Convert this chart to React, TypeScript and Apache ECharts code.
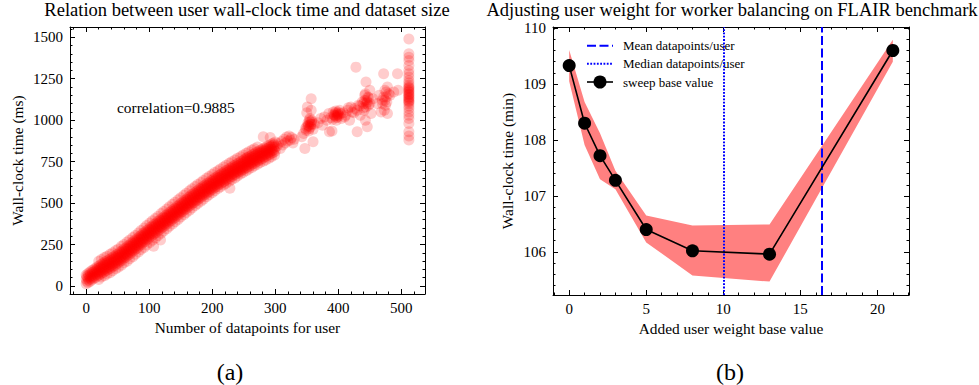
import React, { useEffect, useRef } from "react";
import * as echarts from "echarts";

// ---------- Panel (a): per-user wall-clock time vs dataset size ----------
const userPoints: [number, number][] = [
  [0,14],[0,42],[0,66],[3,20],[3,50],[3,75],[6,27],[6,57],[6,84],[9,36],[9,64],[9,93],[12,45],[12,73],[12,99],
  [15,51],[15,82],[15,108],[18,60],[18,87],[18,117],[21,67],[21,97],[21,123],[24,76],[24,102],[24,132],[27,81],[27,111],[27,138],
  [30,90],[30,117],[30,147],[33,95],[33,125],[33,151],[36,103],[36,130],[36,159],[39,108],[39,138],[39,164],
  [42,118],[42,144],[42,174],[45,123],[45,153],[45,179],[48,133],[48,159],[48,189],[51,139],[51,169],[51,195],
  [54,149],[54,175],[54,205],[57,156],[57,186],[57,212],[60,167],[60,193],[60,223],[63,174],[63,204],[63,230],
  [66,185],[66,211],[66,241],[69,192],[69,222],[69,248],[72,203],[72,229],[72,259],[75,211],[75,241],[75,267],
  [78,222],[78,248],[78,278],[81,229],[81,259],[81,285],[84,241],[84,267],[84,297],[87,249],[87,279],[87,305],
  [90,261],[90,287],[90,317],[93,268],[93,298],[93,324],[96,279],[96,305],[96,335],[99,287],[99,317],[99,343],
  [102,298],[102,324],[102,354],[105,305],[105,335],[105,361],[108,316],[108,342],[108,372],[111,323],[111,353],[111,379],
  [114,334],[114,360],[114,390],[117,341],[117,371],[117,397],[120,352],[120,378],[120,408],[123,359],[123,389],[123,415],
  [126,370],[126,396],[126,426],[129,377],[129,407],[129,433],[132,388],[132,414],[132,444],[135,395],[135,425],[135,451],
  [138,406],[138,432],[138,462],[141,413],[141,443],[141,469],[144,424],[144,450],[144,480],[147,431],[147,461],[147,487],
  [150,442],[150,468],[150,498],[153,449],[153,479],[153,505],[156,460],[156,486],[156,516],[159,467],[159,497],[159,523],
  [162,478],[162,504],[162,534],[165,485],[165,515],[165,541],[168,496],[168,522],[168,552],[171,503],[171,533],[171,559],
  [174,513],[174,539],[174,569],[177,520],[177,550],[177,576],[180,531],[180,557],[180,587],[183,537],[183,567],[183,593],
  [186,547],[186,573],[186,603],[189,553],[189,583],[189,609],[192,563],[192,589],[192,619],[195,569],[195,599],[195,625],
  [198,579],[198,605],[198,635],[201,585],[201,615],[201,641],[204,595],[204,621],[204,651],[207,601],[207,631],[207,657],
  [210,611],[210,637],[210,667],[213,616],[213,646],[213,672],[216,625],[216,651],[216,681],[219,631],[219,661],[219,687],
  [222,640],[222,666],[222,696],[225,645],[225,675],[225,701],[228,655],[228,681],[228,711],[231,660],[231,690],[231,716],
  [234,669],[234,695],[234,725],[237,674],[237,704],[237,730],[240,683],[240,709],[240,739],[243,687],[243,717],[243,743],
  [246,696],[246,722],[246,752],[249,701],[249,731],[249,757],[252,710],[252,736],[252,766],[255,715],[255,745],[255,771],
  [258,723],[258,749],[258,779],[261,728],[261,758],[261,784],[264,737],[264,763],[264,793],[267,741],[267,771],[267,797],
  [270,750],[270,776],[270,806],[273,755],[273,785],[273,811],[276,763],[276,789],[276,819],[279,768],[279,798],[279,824],
  [282,776],[282,802],[282,832],[285,781],[285,811],[285,837],[288,789],[288,815],[288,845],[291,793],[291,823],[291,849],
  [294,801],[294,827],[294,857],[297,805],[297,835],[297,861],[300,813],[300,839],[300,869],
  [1,29],[1,57],[4,37],[4,65],[7,45],[7,73],[10,53],[10,81],[13,61],[13,89],[16,69],[16,97],[19,77],[19,105],
  [22,84],[22,112],[25,91],[25,119],[28,99],[28,127],[31,106],[31,134],[34,112],[34,140],[37,118],[37,146],
  [40,126],[40,154],[43,133],[43,161],[46,141],[46,169],[49,149],[49,177],[52,157],[52,185],[55,165],[55,193],
  [58,174],[58,202],[61,183],[61,211],[64,192],[64,220],[67,201],[67,229],[70,210],[70,238],[73,219],[73,247],
  [76,229],[76,257],[79,238],[79,266],[82,247],[82,275],[85,257],[85,285],[88,267],[88,295],[91,277],[91,305],
  [94,286],[94,314],[97,295],[97,323],[100,305],[100,333],[103,314],[103,342],[106,323],[106,351],[109,332],[109,360],
  [112,341],[112,369],[115,350],[115,378],[118,359],[118,387],[121,368],[121,396],[124,377],[124,405],[127,386],[127,414],
  [130,395],[130,423],[133,404],[133,432],[136,413],[136,441],[139,422],[139,450],[142,431],[142,459],[145,440],[145,468],
  [148,449],[148,477],[151,458],[151,486],[154,467],[154,495],[157,476],[157,504],[160,485],[160,513],[163,494],[163,522],
  [166,503],[166,531],[169,512],[169,540],[172,521],[172,549],[175,529],[175,557],[178,538],[178,566],[181,547],[181,575],
  [184,555],[184,583],[187,563],[187,591],[190,571],[190,599],[193,579],[193,607],[196,587],[196,615],[199,595],[199,623],
  [202,603],[202,631],[205,611],[205,639],[208,619],[208,647],[211,626],[211,654],[214,633],[214,661],[217,641],[217,669],
  [220,648],[220,676],[223,655],[223,683],[226,663],[226,691],[229,670],[229,698],[232,677],[232,705],[235,684],[235,712],
  [238,691],[238,719],[241,698],[241,726],[244,704],[244,732],[247,711],[247,739],[250,718],[250,746],[253,725],[253,753],
  [256,732],[256,760],[259,738],[259,766],[262,745],[262,773],[265,752],[265,780],[268,758],[268,786],[271,765],[271,793],
  [274,772],[274,800],[277,778],[277,806],[280,785],[280,813],[283,791],[283,819],[286,798],[286,826],[289,804],[289,832],
  [292,810],[292,838],[295,816],[295,844],[298,822],[298,850],
  [20,40],[20,150],[29,62],[29,172],[38,80],[38,192],[47,104],[47,214],[56,125],[56,240],[65,150],[65,266],
  [74,176],[74,292],[83,206],[83,320],[92,233],[92,350],[101,262],[101,380],[110,290],[110,408],[119,318],[119,437],
  [128,346],[128,465],[137,374],[137,493],[146,402],[146,520],[155,430],[155,548],[164,457],[164,575],[173,485],[173,600],
  [182,512],[182,625],[191,538],[191,650],[200,562],[200,672],[209,588],[209,695],[218,610],[218,718],[227,632],[227,740],
  [236,652],[236,760],[245,675],[245,780],[254,695],[254,800],[263,715],[263,820],[272,735],[272,838],[281,752],[290,770],[299,790],
  [24,55],[24,160],[33,72],[33,180],[42,92],[42,200],[51,114],[51,224],[60,140],[60,250],[69,165],[69,278],[78,192],[78,305],
  [87,220],[87,335],[96,248],[96,365],[105,276],[105,393],[114,304],[114,420],[123,332],[123,450],[132,360],[132,478],
  [141,388],[141,505],[150,416],[150,532],[159,444],[159,560],[168,470],[168,586],[177,498],[177,612],[186,524],[186,636],
  [195,550],[195,660],[204,575],[204,684],[213,598],[213,706],[222,620],[222,728],[231,642],[231,750],[240,663],[240,770],
  [249,684],[249,790],[258,705],[258,810],[267,725],[267,828],[276,745],[285,760],[294,780],
  [107,240],[118,278],[228,590],[255,775],[281,900],[292,895],
  [303,845],[305,860],[308,830],[310,872],[312,850],[314,885],[316,862],[318,898],[320,875],[322,905],[324,880],[326,895],
  [328,862],[330,885],
  [342,900],[345,920],[347,830],[348,950],[350,1045],[352,970],[353,935],[355,990],[356,960],[357,1130],[358,1000],[360,945],
  [360,870],[362,975],[354,950],[358,975],
  [350,960],[352,985],[354,1000],[356,975],[358,990],[355,1010],[353,965],[349,940],[357,1060],[351,1080],
  [368,985],[372,1010],[375,970],[378,1020],[382,1000],[385,1040],[386,930],[388,1015],[390,935],[392,1050],[394,1030],
  [396,1045],[398,1020],[400,1035],[402,1060],[405,1010],[395,1025],[399,1040],[397,1015],
  [393,1035],[396,1055],[398,1030],[400,1050],[397,1000],[401,1025],[404,1040],[391,1005],
  [408,1045],[412,1030],[416,1075],[422,1050],[426,1070],[430,1060],[434,1085],
  [410,1020],[415,1060],[418,1000],[420,1080],[425,1045],[428,1320],[430,930],[432,1090],[435,1030],[438,1110],[440,1075],
  [442,1150],[443,1000],[444,1230],[445,1120],[446,960],[448,1090],[450,1180],[452,1040],[455,1130],[445,1100],[447,1140],
  [440,1100],[442,1120],[444,1080],[446,1110],[448,1135],[443,1160],[441,1060],[450,1100],
  [462,1100],[465,1150],[468,1050],[470,1120],[472,1280],[474,1180],[475,1090],[476,1140],[478,1200],[478,1040],[480,1160],
  [470,1100],[472,1140],[474,1120],[476,1170],[473,1060],[477,1110],[482,1150],[488,1170],
  [494,1280],[495,1180],
  [512,880],[512,905],[512,930],[512,980],[512,1010],[512,1030],[512,1050],[512,1070],[512,1085],[512,1100],[512,1110],
  [512,1120],[512,1130],[512,1140],[512,1150],[512,1160],[512,1170],[512,1180],[512,1190],[512,1200],[512,1210],[512,1225],
  [512,1240],[512,1260],[512,1280],[512,1300],[512,1330],[512,1360],[512,1380],[512,1400],[512,1490],
  [512,1115],[512,1135],[512,1155],[512,1175],[512,1195],
];
const correlationText = "correlation=0.9885";

// ---------- Panel (b): sweep of added user weight base value ----------
const sweepBase = [0, 1, 2, 3, 5, 8, 13, 21];
const sweepTime = [109.33, 108.3, 107.72, 107.28, 106.4, 106.02, 105.96, 109.6];
const bandLower = [109.05, 107.91, 107.3, 107.12, 106.17, 105.58, 105.47, 109.4];
const bandUpper = [109.61, 108.68, 108.12, 107.45, 106.65, 106.47, 106.49, 109.79];
const meanDatapointsPerUser = 16.4;
const medianDatapointsPerUser = 10;

const FONT = "Liberation Serif, DejaVu Serif, serif";
const BLACK = "#000";
const BLUE = "#0000ff";
const TICK_FS = 15;
const NAME_FS = 15.4;

type AxisSpec = {
  grid: number; min: number; max: number; step: number; tick: number;
  labels: boolean; line: boolean; name?: string; nameGap?: number;
};

function axisPair(kind: "x" | "y", s: AxisSpec) {
  const base = {
    type: "value",
    gridIndex: s.grid,
    min: s.min,
    max: s.max,
    minInterval: s.step,
    maxInterval: s.step,
    splitLine: { show: false },
    axisLine: { show: s.line, onZero: false, lineStyle: { color: BLACK, width: 1 } },
    axisTick: { show: true, inside: true, length: s.tick, lineStyle: { color: BLACK, width: 1 } },
  };
  const labelled = {
    ...base,
    position: kind === "x" ? "bottom" : "left",
    axisLabel: s.labels
      ? {
          show: true, showMinLabel: false, showMaxLabel: false,
          fontFamily: FONT, fontSize: TICK_FS, color: BLACK,
          margin: kind === "x" ? 6 : 7,
          formatter: (v: number) => String(Math.round(v * 1000) / 1000),
        }
      : { show: false },
    name: s.name,
    nameLocation: "middle",
    nameGap: s.nameGap,
    nameTextStyle: { fontFamily: FONT, fontSize: NAME_FS, color: BLACK },
  };
  const mirror = {
    ...base,
    position: kind === "x" ? "top" : "right",
    axisLabel: { show: false },
  };
  return [labelled, mirror];
}

export default function App() {
  const ref = useRef<HTMLDivElement>(null);

  useEffect(() => {
    if (!ref.current) return;
    const chart = echarts.init(ref.current, undefined, { renderer: "svg" });

    const L = { left: 70, top: 27, width: 355, height: 267 };
    const R = { left: 553, top: 27, width: 356, height: 268 };
    const lx = { min: -25.6, max: 537.6 };
    const ly = { min: -48, max: 1562 };
    const rx = { min: -1.05, max: 22.05 };
    const ry = { min: 105.23, max: 110.02 };

    const xAxis = [
      ...axisPair("x", { grid: 0, ...lx, step: 100, tick: 5, labels: true, line: true, name: "Number of datapoints for user", nameGap: 26 }),
      ...axisPair("x", { grid: 1, ...lx, step: 20, tick: 2.5, labels: false, line: false }),
      ...axisPair("x", { grid: 2, ...rx, step: 5, tick: 5, labels: true, line: true, name: "Added user weight base value", nameGap: 26 }),
      ...axisPair("x", { grid: 3, ...rx, step: 1, tick: 2.5, labels: false, line: false }),
    ];
    const yAxis = [
      ...axisPair("y", { grid: 0, ...ly, step: 250, tick: 5, labels: true, line: true, name: "Wall-clock time (ms)", nameGap: 45 }),
      ...axisPair("y", { grid: 1, ...ly, step: 50, tick: 2.5, labels: false, line: false }),
      ...axisPair("y", { grid: 2, ...ry, step: 1, tick: 5, labels: true, line: true, name: "Wall-clock time (min)", nameGap: 38 }),
      ...axisPair("y", { grid: 3, ...ry, step: 0.2, tick: 2.5, labels: false, line: false }),
    ];

    const text = (t: string, x: number, y: number, size: number, align = "center") => ({
      type: "text", x, y, silent: true,
      style: { text: t, fontFamily: FONT, fontSize: size, fill: BLACK, align, verticalAlign: "middle" },
    });

    const legendX0 = 587, legendX1 = 613, legendTextX = 623;
    const legendRows = [45.7, 63.7, 82];

    chart.setOption({
      animation: false,
      grid: [
        { ...L, containLabel: false },
        { ...L, containLabel: false },
        { ...R, containLabel: false },
        { ...R, containLabel: false },
      ],
      xAxis,
      yAxis,
      series: [
        {
          type: "scatter", xAxisIndex: 0, yAxisIndex: 0, data: userPoints,
          symbol: "circle", symbolSize: 11, silent: true,
          itemStyle: { color: "#ff0000", opacity: 0.2 },
        },
        {
          type: "custom", xAxisIndex: 4, yAxisIndex: 4, silent: true, z: 1,
          data: sweepBase.map((x, i) => [x, bandLower[i], bandUpper[i]]),
          encode: { x: 0, y: [1, 2] },
          renderItem: (params: any, api: any) => {
            if (params.dataIndex !== 0) return { type: "group", children: [] };
            const upper = sweepBase.map((x, i) => api.coord([x, bandUpper[i]]));
            const lower = sweepBase.map((x, i) => api.coord([x, bandLower[i]])).reverse();
            return {
              type: "polygon",
              shape: { points: upper.concat(lower) },
              style: { fill: "#ff8080", stroke: "none" },
            };
          },
        },
        {
          type: "line", name: "sweep base value", xAxisIndex: 4, yAxisIndex: 4, silent: true,
          data: sweepBase.map((x, i) => [x, sweepTime[i]]),
          symbol: "circle", symbolSize: 13, z: 5,
          itemStyle: { color: BLACK },
          lineStyle: { color: BLACK, width: 1.6 },
          markLine: {
            silent: true, symbol: "none", label: { show: false }, animation: false,
            data: [
              { xAxis: meanDatapointsPerUser, lineStyle: { color: BLUE, width: 2, type: [9, 3.5] } },
              { xAxis: medianDatapointsPerUser, lineStyle: { color: BLUE, width: 2, type: [1.8, 1.5] } },
            ],
          },
        },
      ],
      graphic: [
        text("Relation between user wall-clock time and dataset size", 247, 10, 18.5),
        text("Adjusting user weight for worker balancing on FLAIR benchmark", 732, 10, 18.5),
        text(correlationText, 117, 107, 15.4, "left"),
        text("(a)", 230, 372, 24),
        text("(b)", 730, 372, 24),
        { type: "line", silent: true, shape: { x1: legendX0, y1: legendRows[0], x2: legendX1, y2: legendRows[0] },
          style: { stroke: BLUE, lineWidth: 2, lineDash: [9, 3.5] } },
        { type: "line", silent: true, shape: { x1: legendX0, y1: legendRows[1], x2: legendX1, y2: legendRows[1] },
          style: { stroke: BLUE, lineWidth: 2, lineDash: [1.8, 1.5] } },
        { type: "line", silent: true, shape: { x1: legendX0, y1: legendRows[2], x2: legendX1, y2: legendRows[2] },
          style: { stroke: BLACK, lineWidth: 1.6 } },
        { type: "circle", silent: true, shape: { cx: (legendX0 + legendX1) / 2, cy: legendRows[2], r: 6.5 },
          style: { fill: BLACK } },
        text("Mean datapoints/user", legendTextX, legendRows[0], 13, "left"),
        text("Median datapoints/user", legendTextX, legendRows[1], 13, "left"),
        text("sweep base value", legendTextX, legendRows[2], 13, "left"),
      ],
    });

    return () => chart.dispose();
  }, []);

  return (
    <div
      ref={ref}
      style={{ width: 979, height: 385, position: "absolute", left: 0, top: 0, background: "#fff" }}
    />
  );
}
